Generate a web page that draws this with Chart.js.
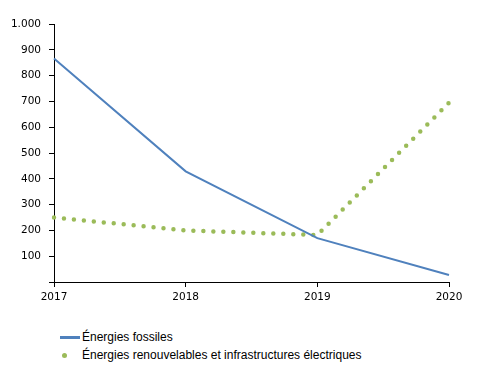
<!DOCTYPE html>
<html>
<head>
<meta charset="utf-8">
<script src="https://cdn.jsdelivr.net/npm/chart.js@4"></script>
<style>
  body { margin: 0; background: #fff; width: 478px; height: 373px; overflow: hidden; }
  #wrap { position: relative; width: 478px; height: 315px; }
  #legend { position: absolute; left: 0; top: 315px; width: 478px; font-family: "Liberation Sans", Arial, sans-serif; font-size: 12px; color: #000; }
  .item { position: absolute; left: 60px; height: 14px; line-height: 14px; white-space: nowrap; }
  .swatch { position: absolute; left: 0; top: 6px; }
  .label { position: absolute; left: 22px; top: 0; }
</style>
</head>
<body>
<div id="wrap"><canvas id="chart" width="478" height="315"></canvas></div>
<div id="legend">
  <div class="item" style="top:15px"><span class="swatch" style="width:20px;height:3px;top:6px;background:#4F81BD"></span><span class="label">Énergies fossiles</span></div>
  <div class="item" style="top:33px"><span class="swatch" style="left:2px;width:5px;height:5px;top:5px;border-radius:50%;background:#9BBB59"></span><span class="label">Énergies renouvelables et infrastructures électriques</span></div>
</div>
<script>
// Data
const years = ['2017', '2018', '2019', '2020'];
const fossiles = [866, 429, 170, 27];
const renouvelables = [250, 200, 182, 695];

document.addEventListener('DOMContentLoaded', function() {
  const ctx = document.getElementById('chart');
  const tickFont = { family: '"DejaVu Sans", Verdana, sans-serif', size: 10.5 };

  new Chart(ctx, {
    type: 'line',
    data: {
      labels: years,
      datasets: [{
        label: 'Énergies fossiles',
        data: fossiles,
        borderColor: '#4F81BD',
        borderWidth: 2,
        pointRadius: 0,
        tension: 0
      }, {
        label: 'Énergies renouvelables et infrastructures électriques',
        data: renouvelables,
        borderColor: '#9BBB59',
        borderWidth: 4.5,
        borderDash: [0, 10],
        borderCapStyle: 'round',
        pointRadius: 0,
        tension: 0
      }]
    },
    options: {
      responsive: false,
      animation: false,
      layout: { padding: { left: 0, right: 29, top: 24, bottom: 0 } },
      plugins: {
        legend: { display: false },
        tooltip: { enabled: false }
      },
      scales: {
        x: {
          offset: false,
          grid: { display: true, drawOnChartArea: false, offset: false, tickLength: 5, color: '#000' },
          border: { color: '#000', width: 1 },
          ticks: { color: '#000', font: tickFont, padding: 4, maxRotation: 0 },
          afterFit: function(scale) { scale.height = 33; }
        },
        y: {
          min: 0,
          max: 1000,
          grid: { display: true, drawOnChartArea: false, tickLength: 5, color: '#000' },
          border: { color: '#000', width: 1 },
          ticks: {
            stepSize: 100,
            color: '#000',
            font: tickFont,
            padding: 8,
            callback: function(v) {
              if (v === 0) return '';
              return v >= 1000 ? Math.floor(v / 1000) + '.' + String(v % 1000).padStart(3, '0') : String(v);
            }
          },
          afterFit: function(scale) { scale.width = 54; }
        }
      }
    }
  });
});
</script>
</body>
</html>
